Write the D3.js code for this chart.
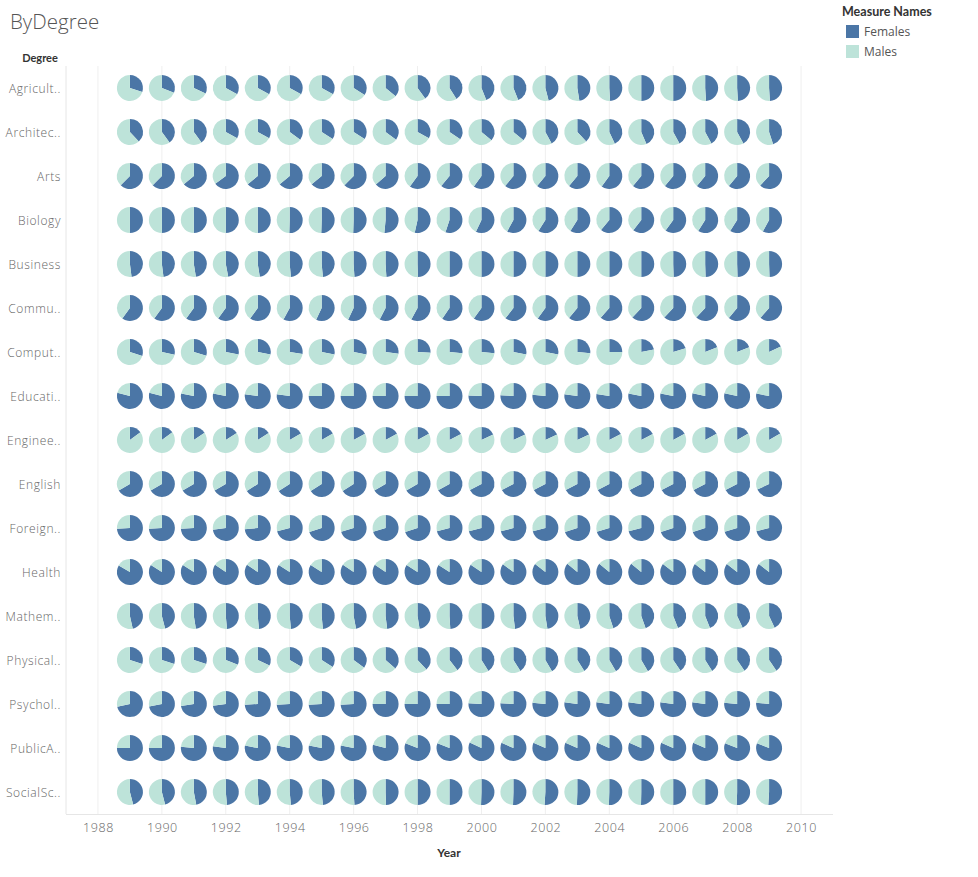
<!DOCTYPE html>
<html>
<head>
<meta charset="utf-8">
<script src="https://cdn.jsdelivr.net/npm/d3@7"></script>
<style>
  body { margin: 0; background: #fff; }
  svg text { font-family: Lato, "Open Sans", sans-serif; }
</style>
</head>
<body>
<div class="pie-grid"></div>
<script>
"use strict";

// years on the x axis
var years = [1989, 1990, 1991, 1992, 1993, 1994, 1995, 1996, 1997, 1998, 1999,
             2000, 2001, 2002, 2003, 2004, 2005, 2006, 2007, 2008, 2009];
var yearTicks = [1988, 1990, 1992, 1994, 1996, 1998, 2000, 2002, 2004, 2006, 2008, 2010];

// share of degrees earned by females (%), one array per degree
var agriculture   = [30, 31, 32, 33, 33, 33, 33, 34, 36, 40, 41, 44, 44, 46, 47.5, 49, 50, 50, 49, 49, 49];
var architecture  = [38, 40, 40, 33, 33, 35, 34, 34, 35, 33, 34.5, 36, 36, 42, 38, 43, 43.5, 42, 42, 42, 45];
var arts          = [62.5, 62.5, 64, 65, 64, 64, 64, 62.5, 63.5, 60, 61, 60, 61, 61, 61, 60, 61, 61, 61, 61, 62];
var biology       = [50, 50, 50, 50, 50, 50.5, 50.5, 50.5, 51.5, 53.5, 55, 57, 58, 59, 59, 61, 60.5, 60, 59, 59, 58];
var business      = [48, 48, 47.5, 47, 47.5, 48.5, 48.5, 49, 49, 49.5, 50, 50, 50, 50, 50, 50, 50, 49.5, 49.5, 49.5, 49.5];
var communication = [60, 60, 60, 60, 60, 58, 57, 57, 57.5, 58, 59.5, 60, 60.5, 60, 61, 61.5, 62, 62, 62, 61, 61.5];
var computer      = [30, 28.5, 29.5, 28, 28, 27.5, 28, 28, 27, 26, 26.5, 26.5, 28, 28, 26.5, 25, 22, 20.5, 19, 19, 18];
var education     = [79, 79, 78, 78, 77, 77, 75, 75, 75, 75, 75, 75.5, 76, 76.5, 77, 77.5, 78, 78, 78.5, 78.5, 78];
var engineering   = [15, 15, 15.5, 16, 16, 16.5, 16.5, 17, 17, 17, 17.5, 18, 18, 18, 18, 17.5, 17.5, 17, 17, 16.5, 16.5];
var english       = [66.5, 66.5, 66.5, 66.5, 66, 66, 66, 66, 66.5, 66.5, 67, 67.5, 67.5, 67.5, 67.5, 67.5, 67.5, 67.5, 67.5, 67.5, 68];
var foreign       = [74, 74, 74, 73, 73.5, 71, 70, 70.5, 70.5, 70, 71, 71, 71, 71, 70, 70.5, 71, 70, 70, 70.5, 71];
var health        = [83.5, 84, 84, 84.5, 84.5, 84, 84, 84.5, 84.5, 84, 84, 84.5, 85, 85.5, 86, 86, 86, 85.5, 85.5, 85.5, 85.5];
var mathematics   = [46.5, 46, 47.5, 48.5, 48.5, 48.5, 48.5, 47, 48, 47.5, 49, 50, 48, 47.5, 46.5, 45, 44.5, 44, 44, 43, 43];
var physical      = [30, 30, 30, 31, 32, 33.5, 34, 35, 36.5, 38, 39.5, 41, 41, 41.5, 41, 41.5, 41.5, 40.5, 41, 40.5, 40.5];
var psychology    = [71.5, 72, 72.5, 73, 74, 74, 74, 74, 75, 75, 75, 76, 76, 76.5, 77, 77, 77, 77, 77, 76.5, 76.5];
var publicAdmin   = [75, 75, 76.5, 77, 78, 78, 78, 78, 79, 81, 81, 82, 81.5, 81.5, 81.5, 81.5, 81.5, 81.5, 81.5, 81, 81];
var socialScience = [46, 46, 47, 48.5, 48.5, 48.5, 48.5, 49, 49.5, 50, 50, 50.5, 50.5, 51, 50.5, 50.5, 50.3, 50, 50, 50.5, 51];

// row labels as shown (truncated) with their series
var degreeLabels = ["Agricult..", "Architec..", "Arts", "Biology", "Business", "Commu..",
                    "Comput..", "Educati..", "Enginee..", "English", "Foreign..", "Health",
                    "Mathem..", "Physical..", "Psychol..", "PublicA..", "SocialSc.."];
var degreeSeries = [agriculture, architecture, arts, biology, business, communication,
                    computer, education, engineering, english, foreign, health,
                    mathematics, physical, psychology, publicAdmin, socialScience];

var measureNames = ["Females", "Males"];
var measureColors = ["#4b76a6", "#bde3d9"];

var pane = {left: 66, right: 833, top: 66, bottom: 814};

var svg = d3.select(".pie-grid").append("svg")
  .attr("width", 978).attr("height", 877);

var x = d3.scaleLinear().domain([1987, 2011]).range([pane.left, pane.right]);
var y = d3.scaleBand().domain(degreeLabels).range([pane.top, pane.bottom]);
var color = d3.scaleOrdinal().domain(measureNames).range(measureColors);

//Title
svg.append("text").text("ByDegree")
  .attr("x", 10).attr("y", 29)
  .style("font-family", "'Open Sans', sans-serif")
  .style("font-size", "20.5px").style("font-weight", 300).style("fill", "#555");

svg.append("text").text("Degree")
  .attr("x", 40).attr("y", 62)
  .style("text-anchor", "middle")
  .style("font-size", "11px").style("font-weight", "bold").style("fill", "#333");

//gridlines
var grid = svg.append("g").attr("class", "grid");
grid.selectAll("line.v").data(yearTicks).enter().append("line")
  .attr("x1", function(d){ return x(d); }).attr("x2", function(d){ return x(d); })
  .attr("y1", pane.top).attr("y2", pane.bottom)
  .style("stroke", "#efefef");
grid.append("line")
  .attr("x1", pane.left).attr("x2", pane.left)
  .attr("y1", pane.top).attr("y2", pane.bottom)
  .style("stroke", "#e6e6e6");
grid.append("line")
  .attr("x1", pane.left).attr("x2", pane.right)
  .attr("y1", pane.bottom + 0.5).attr("y2", pane.bottom + 0.5)
  .style("stroke", "#e6e6e6");

//x axis
var xAxis = svg.append("g")
  .attr("transform", "translate(0," + pane.bottom + ")")
  .call(d3.axisBottom(x).tickValues(yearTicks).tickFormat(d3.format("d")).tickSize(0).tickPadding(9));
xAxis.select(".domain").remove();
xAxis.selectAll("text").style("font-size", "12.5px").style("fill", "#666")
  .style("letter-spacing", "0.6px")
  .style("font-family", "'Open Sans', sans-serif").style("font-weight", 300);

svg.append("text").text("Year")
  .attr("x", 449).attr("y", 857)
  .style("text-anchor", "middle")
  .style("font-size", "12px").style("font-weight", "bold").style("fill", "#333");

//y axis
var yAxis = svg.append("g")
  .attr("transform", "translate(" + (pane.left - 5) + ",0)")
  .call(d3.axisLeft(y).tickSize(0).tickPadding(0));
yAxis.select(".domain").remove();
yAxis.selectAll("text").style("font-size", "12px").style("fill", "#666")
  .attr("dy", "0.42em")
  .style("letter-spacing", "0.6px")
  .style("font-family", "'Open Sans', sans-serif").style("font-weight", 300);

//pies
var pie = d3.pie().sort(null).value(function(d){ return d.value; });
var arc = d3.arc().innerRadius(0).outerRadius(13);

var cells = [];
degreeLabels.forEach(function(label, r){
  years.forEach(function(year, c){
    var f = degreeSeries[r][c];
    cells.push({degree: label, year: year,
                parts: [{name: "Females", value: f}, {name: "Males", value: 100 - f}]});
  });
});

var pieGroups = svg.append("g").attr("class", "pies")
  .selectAll("g.cell").data(cells).enter().append("g")
  .attr("class", "cell")
  .attr("transform", function(d){
    return "translate(" + x(d.year) + "," + (y(d.degree) + y.bandwidth()/2) + ")";
  });

pieGroups.selectAll("path").data(function(d){ return pie(d.parts); })
  .enter().append("path")
  .attr("d", arc)
  .style("fill", function(d){ return color(d.data.name); });

//legend
var legend = svg.append("g").attr("class", "legend");
legend.append("text").text("Measure Names")
  .attr("x", 842).attr("y", 16)
  .style("font-size", "12.5px").style("font-weight", "bold").style("fill", "#333");
var items = legend.selectAll("g.item").data(measureNames).enter().append("g")
  .attr("class", "item")
  .attr("transform", function(d, i){ return "translate(846," + (25 + i*20) + ")"; });
items.append("rect").attr("width", 13).attr("height", 13)
  .style("fill", function(d){ return color(d); });
items.append("text").text(function(d){ return d; })
  .attr("x", 18).attr("y", 11)
  .style("font-family", "'Open Sans', sans-serif")
  .style("font-size", "12px").style("fill", "#555");
</script>
</body>
</html>
